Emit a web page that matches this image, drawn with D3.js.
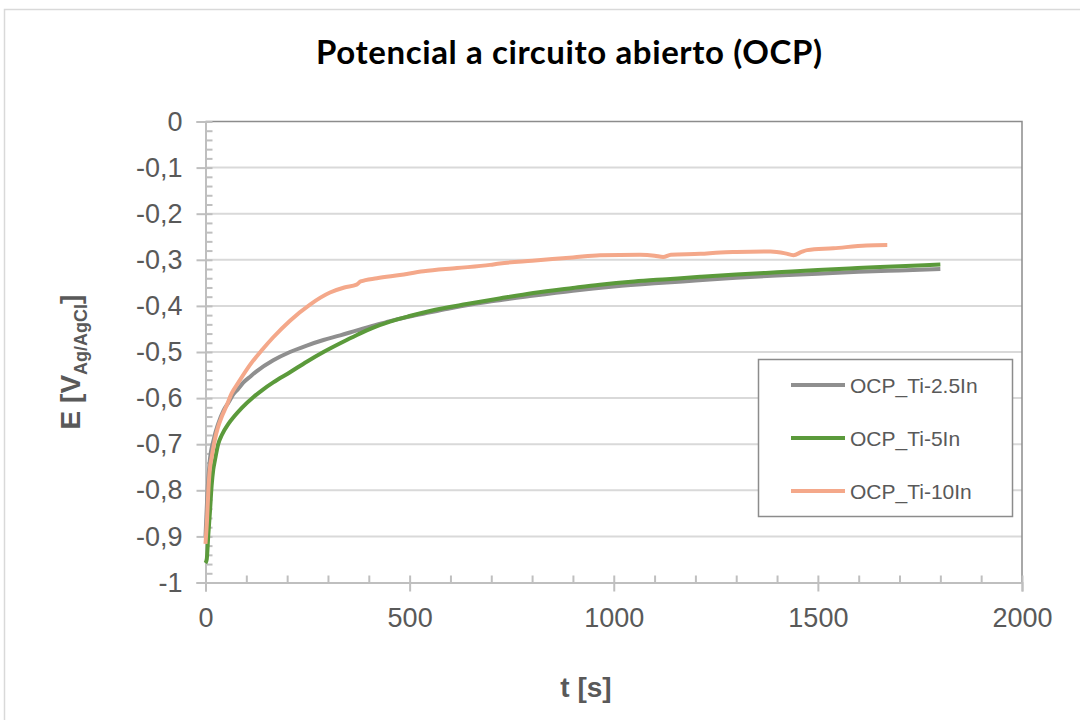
<!DOCTYPE html>
<meta charset="utf-8">
<script src="https://d3js.org/d3.v7.min.js"></script>
<style>
  body { margin: 0; background: #fff; }
  svg text { font-family: "Liberation Sans", Arial, sans-serif; fill: #595959; }
</style>
<div id="chart"></div>
<script>
  // series: time (s) and potential (V vs Ag/AgCl)
  var t25 = [0, 5, 10, 20, 31, 44, 56, 68, 80, 93, 110, 125, 166, 207, 248, 289, 330, 371, 411, 452, 500, 550, 600, 650, 700, 800, 900, 1000, 1100, 1200, 1300, 1400, 1500, 1600, 1700, 1800];
  var e25 = [-0.90, -0.80, -0.74, -0.69, -0.656, -0.627, -0.610, -0.592, -0.580, -0.566, -0.553, -0.542, -0.518, -0.500, -0.486, -0.474, -0.464, -0.453, -0.443, -0.433, -0.423, -0.414, -0.405, -0.397, -0.390, -0.378, -0.367, -0.358, -0.351, -0.345, -0.339, -0.334, -0.330, -0.326, -0.323, -0.320];

  var t5 = [0, 3, 7, 11, 15, 19, 23, 31, 40, 56, 70, 89, 117, 140, 166, 207, 248, 289, 330, 371, 411, 452, 500, 550, 640, 720, 803, 900, 966, 1050, 1130, 1212, 1300, 1400, 1500, 1597, 1700, 1800];
  var e5 = [-0.958, -0.950, -0.895, -0.845, -0.79, -0.755, -0.735, -0.700, -0.680, -0.656, -0.640, -0.621, -0.598, -0.582, -0.566, -0.544, -0.521, -0.500, -0.481, -0.463, -0.447, -0.434, -0.422, -0.411, -0.396, -0.384, -0.372, -0.361, -0.354, -0.347, -0.342, -0.337, -0.332, -0.327, -0.322, -0.318, -0.314, -0.310];

  var t10 = [0, 4, 7, 11, 15, 23, 30, 40, 50, 64, 80, 109, 140, 166, 207, 256, 305, 340, 370, 380, 420, 476, 534, 616, 697, 721, 800, 900, 966, 1064, 1100, 1121, 1140, 1212, 1261, 1300, 1384, 1420, 1440, 1460, 1474, 1538, 1619, 1670];
  var e10 = [-0.916, -0.86, -0.80, -0.751, -0.729, -0.690, -0.665, -0.640, -0.620, -0.590, -0.567, -0.528, -0.494, -0.468, -0.432, -0.397, -0.371, -0.360, -0.354, -0.347, -0.340, -0.333, -0.325, -0.318, -0.311, -0.308, -0.302, -0.295, -0.290, -0.289, -0.291, -0.294, -0.289, -0.287, -0.284, -0.283, -0.282, -0.286, -0.290, -0.283, -0.279, -0.275, -0.269, -0.268];

  var seriesNames = ["OCP_Ti-2.5In", "OCP_Ti-5In", "OCP_Ti-10In"];
  var colors = ["#8f8f8f", "#5b9a3b", "#f4a88a"];
  var xTicks = [0, 500, 1000, 1500, 2000];
  var yTicks = [0, -0.1, -0.2, -0.3, -0.4, -0.5, -0.6, -0.7, -0.8, -0.9, -1];

  var series = [
    { name: seriesNames[0], t: t25, e: e25, color: colors[0] },
    { name: seriesNames[1], t: t5, e: e5, color: colors[1] },
    { name: seriesNames[2], t: t10, e: e10, color: colors[2] }
  ];

  var W = 1080, H = 720;
  var plot = { left: 205.5, right: 1022, top: 121.5, bottom: 582.5 };

  var svg = d3.select("#chart").append("svg")
    .attr("width", W).attr("height", H);

  // chart area border
  svg.append("rect")
    .attr("x", 4.5).attr("y", 9.5)
    .attr("width", W + 20).attr("height", H + 20)
    .attr("fill", "#fff").attr("stroke", "#d9d9d9").attr("stroke-width", 1.5);

  var x = d3.scaleLinear().domain([0, 2000]).range([plot.left, plot.right]);
  var y = d3.scaleLinear().domain([-1, 0]).range([plot.bottom, plot.top]);

  // gridlines
  svg.append("g")
    .selectAll("line")
    .data(yTicks.filter(function (d) { return d !== -1 && d !== 0; }))
    .enter().append("line")
    .attr("x1", plot.left).attr("x2", plot.right)
    .attr("y1", function (d) { return y(d); })
    .attr("y2", function (d) { return y(d); })
    .attr("stroke", "#d9d9d9").attr("stroke-width", 2);

  // plot border top/right
  svg.append("path")
    .attr("d", "M" + plot.left + "," + plot.top + "H" + plot.right + "V" + plot.bottom)
    .attr("fill", "none").attr("stroke", "#8c8c8c").attr("stroke-width", 1.5);

  // excel style: -0,1 ... -1
  var fmt = function (d) { return String(Math.round(d * 10) / 10).replace(".", ","); };

  // y axis: major ticks outside, minor inside
  var yAxis = svg.append("g")
    .attr("transform", "translate(" + plot.left + ",0)")
    .call(d3.axisLeft(y).tickValues(yTicks).tickSize(9).tickPadding(14).tickFormat(fmt));
  var yMinor = svg.append("g")
    .attr("transform", "translate(" + plot.left + ",0)")
    .call(d3.axisRight(y).tickValues(d3.range(-1, 0.001, 0.02)).tickSize(7).tickFormat(""));

  var xAxis = svg.append("g")
    .attr("transform", "translate(0," + plot.bottom + ")")
    .call(d3.axisBottom(x).tickValues(xTicks).tickSize(9).tickPadding(16).tickFormat(d3.format("d")));
  var xMinor = svg.append("g")
    .attr("transform", "translate(0," + plot.bottom + ")")
    .call(d3.axisTop(x).tickValues(d3.range(0, 2001, 100)).tickSize(7).tickFormat(""));

  [yAxis, yMinor, xAxis, xMinor].forEach(function (a) {
    a.selectAll(".domain").attr("stroke", "#bfbfbf").attr("stroke-width", 2);
    a.selectAll(".tick line").attr("stroke", "#bfbfbf").attr("stroke-width", 2);
    a.selectAll("text").style("font-size", "27px").attr("fill", "#595959");
  });
  yMinor.select(".domain").remove();
  xMinor.select(".domain").remove();

  // lines
  var line = d3.line()
    .x(function (d) { return x(d[0]); })
    .y(function (d) { return y(d[1]); })
    .curve(d3.curveMonotoneX);

  svg.append("g").selectAll("path")
    .data(series)
    .enter().append("path")
    .attr("d", function (s) { return line(d3.zip(s.t, s.e)); })
    .attr("fill", "none")
    .attr("stroke", function (s) { return s.color; })
    .attr("stroke-width", 4)
    .attr("stroke-linejoin", "round");

  // title
  svg.append("text")
    .attr("x", 569).attr("y", 64)
    .attr("text-anchor", "middle")
    .attr("textLength", 506)
    .style("font-family", "Lato, 'Open Sans', sans-serif")
    .style("font-weight", "bold")
    .style("font-size", "33px")
    .style("fill", "#000")
    .text("Potencial a circuito abierto (OCP)");

  // axis titles
  svg.append("text")
    .attr("x", 586).attr("y", 697)
    .attr("text-anchor", "middle")
    .style("font-weight", "bold").style("font-size", "28px")
    .text("t [s]");

  var yt = svg.append("text")
    .attr("transform", "translate(80,362) rotate(-90)")
    .attr("text-anchor", "middle")
    .style("font-weight", "bold").style("font-size", "28px");
  yt.append("tspan").text("E [V");
  yt.append("tspan").attr("dy", 7).style("font-size", "18px").text("Ag/AgCl");
  yt.append("tspan").attr("dy", -7).text("]");

  // legend
  var lg = svg.append("g");
  lg.append("rect")
    .attr("x", 758.5).attr("y", 359.5).attr("width", 254).attr("height", 157)
    .attr("fill", "#fff").attr("stroke", "#8c8c8c").attr("stroke-width", 1.5);
  var item = lg.selectAll(".item").data(series).enter().append("g")
    .attr("transform", function (d, i) { return "translate(0," + (385 + i * 53) + ")"; });
  item.append("line")
    .attr("x1", 791).attr("x2", 845)
    .attr("stroke", function (d) { return d.color; }).attr("stroke-width", 4);
  item.append("text")
    .attr("x", 850).attr("dy", "0.36em")
    .style("font-size", "21px")
    .text(function (d) { return d.name; });
</script>
